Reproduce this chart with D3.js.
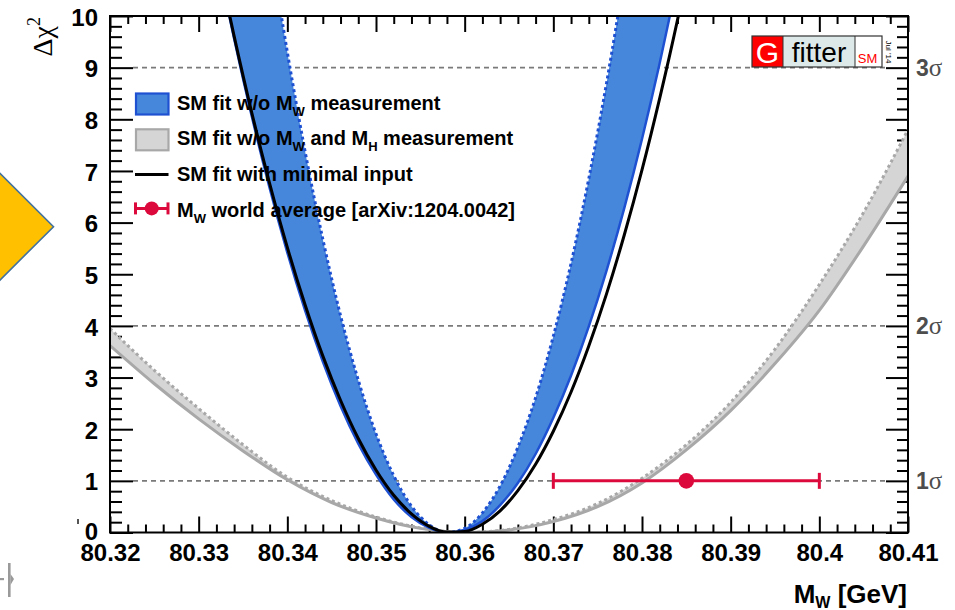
<!DOCTYPE html>
<html>
<head>
<meta charset="utf-8">
<script src="https://cdn.jsdelivr.net/npm/d3@7"></script>
<style>
  html, body { margin: 0; padding: 0; background: #fff; }
  svg { display: block; }
</style>
</head>
<body>
<svg id="chart" width="955" height="610"></svg>
<script>
// ---- axis ticks ----
const xTickValues = [80.32, 80.33, 80.34, 80.35, 80.36, 80.37, 80.38, 80.39, 80.40, 80.41];
const xTickLabels = ["80.32", "80.33", "80.34", "80.35", "80.36", "80.37", "80.38", "80.39", "80.4", "80.41"];
const yTickValues = [0, 1, 2, 3, 4, 5, 6, 7, 8, 9, 10];
const yTickLabels = ["0", "1", "2", "3", "4", "5", "6", "7", "8", "9", "10"];
const sigmaLevels = [1, 4, 9];
const sigmaLabels = ["1", "2", "3"];

// ---- Delta chi2 scans, SM fit without M_W and with minimal input ----
const mwFit = [80.333, 80.334, 80.336, 80.338, 80.340, 80.342, 80.344, 80.346, 80.348, 80.350,
               80.352, 80.354, 80.356, 80.358, 80.360, 80.362, 80.364, 80.366, 80.368, 80.370,
               80.372, 80.374, 80.376, 80.378, 80.380, 80.382, 80.384, 80.385];
const chi2Minimal = [10.40, 9.61, 8.12, 6.76, 5.52, 4.41, 3.42, 2.56, 1.82, 1.21,
                     0.72, 0.36, 0.12, 0.01, 0.02, 0.16, 0.42, 0.81, 1.32, 1.96,
                     2.72, 3.61, 4.62, 5.76, 7.02, 8.41, 9.92, 10.73];
const chi2NoMwOuter = [10.36, 9.56, 8.05, 6.67, 5.42, 4.30, 3.31, 2.45, 1.72, 1.12,
                       0.64, 0.30, 0.09, 0.00, 0.05, 0.22, 0.53, 0.96, 1.52, 2.22,
                       3.04, 3.99, 5.07, 6.28, 7.62, 9.09, 10.69, 11.54];
const chi2NoMwInner = [17.78, 16.40, 13.81, 11.45, 9.30, 7.38, 5.68, 4.20, 2.95, 1.91,
                       1.10, 0.51, 0.15, 0.00, 0.08, 0.38, 0.90, 1.65, 2.61, 3.80,
                       5.21, 6.85, 8.70, 10.78, 13.08, 15.60, 18.35, 19.80];

// ---- Delta chi2 scan, SM fit without M_W and M_H ----
const mwWide = [80.320, 80.325, 80.330, 80.335, 80.340, 80.345, 80.350, 80.355, 80.360, 80.365,
                80.370, 80.375, 80.380, 80.385, 80.390, 80.395, 80.400, 80.405, 80.410];
const chi2NoMwMhOuter = [3.62, 2.88, 2.20, 1.58, 1.02, 0.58, 0.28, 0.08, 0.00, 0.05,
                         0.21, 0.50, 0.96, 1.60, 2.36, 3.27, 4.30, 5.55, 6.90];
const chi2NoMwMhInner = [3.95, 3.14, 2.40, 1.70, 1.07, 0.62, 0.30, 0.09, 0.00, 0.06,
                         0.25, 0.56, 1.05, 1.70, 2.52, 3.55, 4.80, 6.20, 7.80];

// ---- M_W world average ----
const mwAverage = 80.385;
const mwAverageErr = 0.015;

// ---- legend ----
const legendEntries = [
  [["SM fit w/o M", ""], ["W", "sub"], [" measurement", ""]],
  [["SM fit w/o M", ""], ["W", "sub"], [" and M", ""], ["H", "sub"], [" measurement", ""]],
  [["SM fit with minimal input", ""]],
  [["M", ""], ["W", "sub"], [" world average [arXiv:1204.0042]", ""]]
];
const legendKinds = ["blueBox", "grayBox", "line", "errorbar"];

// ---- styling ----
const SANS = "'Liberation Sans', Arial, Helvetica, sans-serif";
const SERIF = "'Liberation Serif', 'Times New Roman', serif";
const blueFill = "#4687dc";
const blueLine = "#1e50d2";
const grayFill = "#d5d5d5";
const grayLine = "#a8a8a8";
const red = "#dc0a3c";

const svg = d3.select("#chart");
const plot = { left: 110, right: 908, top: 16, bottom: 532.5 };

const x = d3.scaleLinear().domain([80.32, 80.41]).range([plot.left, plot.right]);
const y = d3.scaleLinear().domain([0, 10]).range([plot.bottom, plot.top]);

svg.append("rect").attr("width", 955).attr("height", 610).attr("fill", "#fff");

// slide decorations at the left edge
svg.append("polygon")
  .attr("points", "-4,169.5 53.5,226.7 -4,284")
  .attr("fill", "#ffc000").attr("stroke", "#41719c").attr("stroke-width", 1.6);
svg.append("rect").attr("x", 8).attr("y", 563).attr("width", 2.6).attr("height", 34).attr("fill", "#9a9a9a");
svg.append("polygon").attr("points", "10.5,574 14,579 10.5,585").attr("fill", "#9a9a9a");
svg.append("rect").attr("x", 0).attr("y", 578).attr("width", 4).attr("height", 2.2).attr("fill", "#9a9a9a");
svg.append("rect").attr("x", 77).attr("y", 519).attr("width", 2).attr("height", 5).attr("fill", "#555");

svg.append("defs").append("clipPath").attr("id", "plotClip")
  .append("rect")
  .attr("x", plot.left).attr("y", plot.top)
  .attr("width", plot.right - plot.left).attr("height", plot.bottom - plot.top);

// ---- axes (ticks pointing inwards) ----
const xMinor = d3.range(0, 46).map(i => +(80.32 + i * 0.002).toFixed(3))
  .filter(v => !xTickValues.some(t => Math.abs(t - v) < 1e-6));
const yMinor = d3.range(0, 51).map(i => +(i * 0.2).toFixed(1))
  .filter(v => !yTickValues.includes(v));

function styleAxis(g) {
  g.select(".domain").remove();
  g.selectAll(".tick line").attr("stroke", "#000").attr("stroke-width", 2);
  g.selectAll("text").attr("fill", "#000")
    .style("font-family", SANS).style("font-weight", "bold").style("font-size", "24px");
}

svg.append("g").attr("transform", `translate(0,${plot.bottom})`)
  .call(d3.axisBottom(x).tickValues(xTickValues).tickSize(-16).tickPadding(11.5)
    .tickFormat((d, i) => xTickLabels[i]))
  .call(styleAxis);
svg.append("g").attr("transform", `translate(0,${plot.bottom})`)
  .call(d3.axisBottom(x).tickValues(xMinor).tickSize(-8).tickFormat(""))
  .call(styleAxis);
svg.append("g").attr("transform", `translate(0,${plot.top})`)
  .call(d3.axisTop(x).tickValues(xTickValues).tickSize(-16).tickFormat(""))
  .call(styleAxis);
svg.append("g").attr("transform", `translate(0,${plot.top})`)
  .call(d3.axisTop(x).tickValues(xMinor).tickSize(-8).tickFormat(""))
  .call(styleAxis);

const gLeft = svg.append("g").attr("transform", `translate(${plot.left},0)`)
  .call(d3.axisLeft(y).tickValues(yTickValues).tickSize(-23).tickPadding(12)
    .tickFormat((d, i) => yTickLabels[i]))
  .call(styleAxis);
gLeft.selectAll("text").attr("dy", d => d === 0 ? "0.28em" : "0.38em");
svg.append("g").attr("transform", `translate(${plot.left},0)`)
  .call(d3.axisLeft(y).tickValues(yMinor).tickSize(-12).tickFormat(""))
  .call(styleAxis);
svg.append("g").attr("transform", `translate(${plot.right},0)`)
  .call(d3.axisRight(y).tickValues(yTickValues).tickSize(-22).tickFormat(""))
  .call(styleAxis);
svg.append("g").attr("transform", `translate(${plot.right},0)`)
  .call(d3.axisRight(y).tickValues(yMinor).tickSize(-11).tickFormat(""))
  .call(styleAxis);

// ---- sigma reference lines ----
svg.append("g").selectAll("line").data(sigmaLevels).join("line")
  .attr("x1", plot.left + 23).attr("x2", plot.right - 23)
  .attr("y1", d => y(d)).attr("y2", d => y(d))
  .attr("stroke", "#7a7a7a").attr("stroke-width", 1.6).attr("stroke-dasharray", "5,4");

svg.append("g").selectAll("text").data(sigmaLevels).join("text")
  .attr("x", plot.right + 8).attr("y", d => y(d) + 8.5)
  .attr("fill", "#4d4d4d")
  .style("font-family", SANS).style("font-weight", "bold").style("font-size", "23px")
  .each(function (d, i) {
    const t = d3.select(this);
    t.append("tspan").text(sigmaLabels[i]);
    t.append("tspan").text("σ").style("font-family", SERIF).style("font-weight", "normal").style("font-size", "25px");
  });

// ---- curves ----
const curves = svg.append("g").attr("clip-path", "url(#plotClip)");

function bandArea(xs, lo, hi) {
  return d3.area()
    .x((d, i) => x(xs[i]))
    .y0((d, i) => y(lo[i]))
    .y1((d, i) => y(hi[i]))
    .curve(d3.curveMonotoneX)(xs);
}
function curvePath(xs, vals) {
  return d3.line()
    .x((d, i) => x(xs[i]))
    .y((d, i) => y(vals[i]))
    .curve(d3.curveMonotoneX)(xs);
}

// SM fit w/o M_W and M_H
curves.append("path").attr("d", bandArea(mwWide, chi2NoMwMhOuter, chi2NoMwMhInner)).attr("fill", grayFill);
curves.append("path").attr("d", curvePath(mwWide, chi2NoMwMhOuter))
  .attr("fill", "none").attr("stroke", grayLine).attr("stroke-width", 3);
curves.append("path").attr("d", curvePath(mwWide, chi2NoMwMhInner))
  .attr("fill", "none").attr("stroke", grayLine).attr("stroke-width", 3).attr("stroke-dasharray", "3,3");

// SM fit w/o M_W
curves.append("path").attr("d", bandArea(mwFit, chi2NoMwOuter, chi2NoMwInner)).attr("fill", blueFill);
curves.append("path").attr("d", curvePath(mwFit, chi2NoMwOuter))
  .attr("fill", "none").attr("stroke", blueLine).attr("stroke-width", 2.5);
curves.append("path").attr("d", curvePath(mwFit, chi2NoMwInner))
  .attr("fill", "none").attr("stroke", blueLine).attr("stroke-width", 3).attr("stroke-dasharray", "3,3");

// SM fit with minimal input
curves.append("path").attr("d", curvePath(mwFit, chi2Minimal))
  .attr("fill", "none").attr("stroke", "#000").attr("stroke-width", 3);

// ---- M_W world average ----
const avg = svg.append("g").attr("stroke", red).attr("stroke-width", 3);
avg.append("line")
  .attr("x1", x(mwAverage - mwAverageErr)).attr("x2", x(mwAverage + mwAverageErr))
  .attr("y1", y(1)).attr("y2", y(1));
[mwAverage - mwAverageErr, mwAverage + mwAverageErr].forEach(v => {
  avg.append("line").attr("x1", x(v)).attr("x2", x(v)).attr("y1", y(1) - 8).attr("y2", y(1) + 8);
});
svg.append("circle").attr("cx", x(mwAverage)).attr("cy", y(1)).attr("r", 7.8).attr("fill", red);

// ---- frame ----
svg.append("rect")
  .attr("x", plot.left).attr("y", plot.top)
  .attr("width", plot.right - plot.left).attr("height", plot.bottom - plot.top)
  .attr("fill", "none").attr("stroke", "#000").attr("stroke-width", 2);

// ---- axis titles ----
const xTitle = svg.append("text")
  .attr("x", 907).attr("y", 603).attr("text-anchor", "end")
  .style("font-family", SANS).style("font-weight", "bold").style("font-size", "26px");
xTitle.append("tspan").text("M");
xTitle.append("tspan").text("W").attr("dy", 4.5).style("font-size", "16px");
xTitle.append("tspan").text(" [GeV]").attr("dy", -4.5);

const yTitle = svg.append("text")
  .attr("transform", "translate(52,17) rotate(-90)")
  .attr("text-anchor", "end")
  .style("font-family", SERIF).style("font-size", "28px");
yTitle.append("tspan").text("Δχ");
yTitle.append("tspan").text("2").attr("dy", -12).style("font-size", "18px");

// ---- legend ----
const legend = svg.append("g");
legendEntries.forEach((parts, i) => {
  const base = 109.5 + i * 35.8;
  const cy = base - 5.5 - (i === 3 ? 3 : i === 2 ? 1 : 0);
  const kind = legendKinds[i];
  if (kind === "blueBox" || kind === "grayBox") {
    legend.append("rect")
      .attr("x", 136).attr("y", cy - 10.5).attr("width", 32.5).attr("height", 21)
      .attr("fill", kind === "blueBox" ? blueFill : grayFill)
      .attr("stroke", kind === "blueBox" ? blueLine : grayLine).attr("stroke-width", 2.2);
  } else if (kind === "line") {
    legend.append("line").attr("x1", 135).attr("x2", 168.5).attr("y1", cy).attr("y2", cy)
      .attr("stroke", "#000").attr("stroke-width", 3);
  } else {
    const g = legend.append("g").attr("stroke", red).attr("stroke-width", 3);
    g.append("line").attr("x1", 135.5).attr("x2", 168).attr("y1", cy).attr("y2", cy);
    g.append("line").attr("x1", 135.5).attr("x2", 135.5).attr("y1", cy - 6).attr("y2", cy + 6);
    g.append("line").attr("x1", 168).attr("x2", 168).attr("y1", cy - 6).attr("y2", cy + 6);
    legend.append("circle").attr("cx", 151.7).attr("cy", cy).attr("r", 7).attr("fill", red);
  }
  const t = legend.append("text").attr("x", 177).attr("y", base)
    .style("font-family", SANS).style("font-weight", "bold").style("font-size", "20px").attr("fill", "#000");
  let shifted = false;
  parts.forEach(([txt, kindPart]) => {
    const s = t.append("tspan").text(txt);
    if (kindPart === "sub") { s.attr("dy", 6).style("font-size", "13px"); shifted = true; }
    else if (shifted) { s.attr("dy", -6); shifted = false; }
  });
});

// ---- Gfitter logo ----
const logo = svg.append("g").attr("transform", "translate(752,36)");
logo.append("rect").attr("x", 0).attr("y", 0).attr("width", 31).attr("height", 31).attr("fill", "#ff0000");
logo.append("rect").attr("x", 31).attr("y", 0).attr("width", 72).attr("height", 31).attr("fill", "#dde9e9");
logo.append("rect").attr("x", 103).attr("y", 0).attr("width", 27).attr("height", 31).attr("fill", "#ffffff");
logo.append("rect").attr("x", 0).attr("y", 0).attr("width", 130).attr("height", 31)
  .attr("fill", "none").attr("stroke", "#333").attr("stroke-width", 1.2);
logo.append("line").attr("x1", 31).attr("x2", 31).attr("y1", 0).attr("y2", 31).attr("stroke", "#333").attr("stroke-width", 1);
logo.append("line").attr("x1", 103).attr("x2", 103).attr("y1", 0).attr("y2", 31).attr("stroke", "#333").attr("stroke-width", 1);
logo.append("text").attr("x", 15.5).attr("y", 26.5).attr("text-anchor", "middle")
  .style("font-family", SANS).style("font-size", "30px").attr("fill", "#fff").text("G");
logo.append("text").attr("x", 67).attr("y", 25.5).attr("text-anchor", "middle")
  .style("font-family", SANS).style("font-size", "28px").attr("fill", "#000").text("fitter");
logo.append("text").attr("x", 115.5).attr("y", 26.5).attr("text-anchor", "middle")
  .style("font-family", SANS).style("font-size", "13px").attr("fill", "#ff0000").text("SM");
svg.append("text").attr("transform", "translate(886,52) rotate(90)").attr("text-anchor", "middle")
  .style("font-family", SANS).style("font-size", "8px").attr("fill", "#000").text("Jul '14");
</script>
</body>
</html>
